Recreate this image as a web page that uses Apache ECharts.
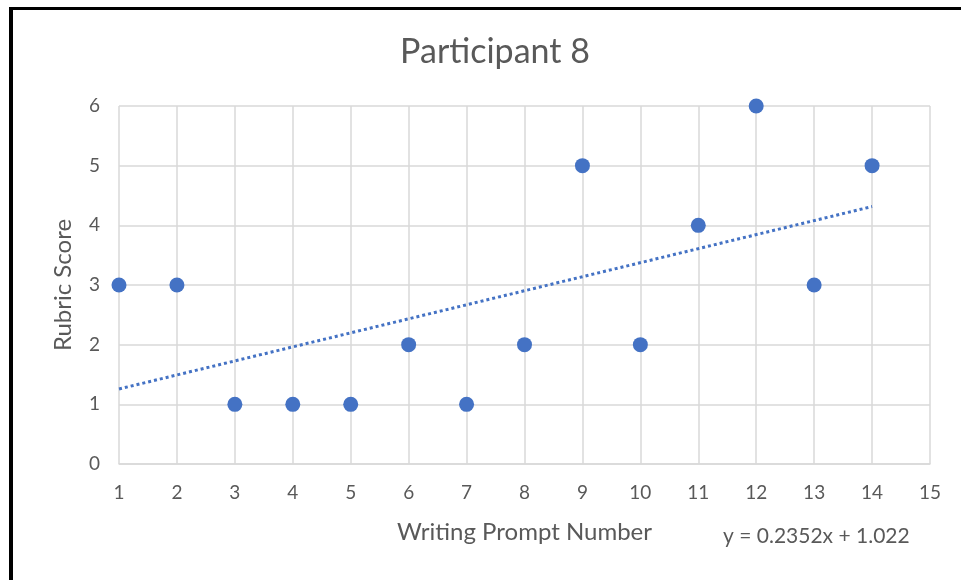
<!DOCTYPE html>
<html>
<head>
<meta charset="utf-8">
<script src="https://cdn.jsdelivr.net/npm/echarts@6/dist/echarts.min.js"></script>
<style>
  html, body { margin: 0; padding: 0; background: #fff; }
  #frame { position: absolute; left: 9px; top: 7px; width: 952px; height: 573px;
           border-left: 4px solid #000; border-top: 3px solid #000; box-sizing: border-box; }
  #chart { position: absolute; left: 0; top: 0; width: 961px; height: 580px; }
</style>
</head>
<body>
<div id="frame"></div>
<div id="chart"></div>
<script>
// Writing prompt number vs rubric score
const promptNumbers = [1, 2, 3, 4, 5, 6, 7, 8, 9, 10, 11, 12, 13, 14];
const rubricScores = [3, 3, 1, 1, 1, 2, 1, 2, 5, 2, 4, 6, 3, 5];

// Linear trendline as printed on the chart
const trendSlope = 0.2352;
const trendIntercept = 1.022;
const trendRange = [1, 14];

const font = "Lato, 'Open Sans', sans-serif";
const textColor = "#595959";
const blue = "#4472C4";

const chart = echarts.init(document.getElementById("chart"));

const points = promptNumbers.map((x, i) => [x, rubricScores[i]]);
const trendPoints = trendRange.map((x) => [x, trendSlope * x + trendIntercept]);

chart.setOption({
  animation: false,
  backgroundColor: "transparent",
  title: {
    text: "Participant 8",
    left: 490,
    top: 30,
    textAlign: "center",
    textStyle: { fontFamily: font, fontSize: 34, fontWeight: "normal", color: textColor },
  },
  grid: { left: 119, right: 31, top: 106, bottom: 116 },
  xAxis: {
    type: "value",
    min: 1,
    max: 15,
    interval: 1,
    name: "Writing Prompt Number",
    nameLocation: "middle",
    nameGap: 56,
    nameTextStyle: { fontFamily: font, fontSize: 24, color: textColor },
    axisLine: { show: true, lineStyle: { color: "#D9D9D9", width: 1.5 } },
    axisTick: { show: false },
    axisLabel: { fontFamily: font, fontSize: 19, color: textColor, margin: 19 },
    splitLine: { show: true, lineStyle: { color: "#D9D9D9", width: 1.5 } },
  },
  yAxis: {
    type: "value",
    min: 0,
    max: 6,
    interval: 1,
    name: "Rubric Score",
    nameLocation: "middle",
    nameGap: 44,
    nameTextStyle: { fontFamily: font, fontSize: 24, color: textColor },
    axisLine: { show: false },
    axisTick: { show: false },
    axisLabel: { fontFamily: font, fontSize: 19, color: textColor, margin: 19 },
    splitLine: { show: true, lineStyle: { color: "#D9D9D9", width: 1.5 } },
  },
  graphic: [
    {
      type: "text",
      left: 723,
      top: 526,
      style: { text: "y = 0.2352x + 1.022", fontFamily: font, fontSize: 21, fill: textColor },
    },
  ],
  series: [
    {
      type: "line",
      data: trendPoints,
      symbol: "none",
      lineStyle: { color: blue, width: 3, type: [3, 3] },
      z: 1,
    },
    {
      type: "scatter",
      data: points,
      symbolSize: 15,
      itemStyle: { color: blue, opacity: 1 },
      z: 2,
    },
  ],
});
</script>
</body>
</html>
